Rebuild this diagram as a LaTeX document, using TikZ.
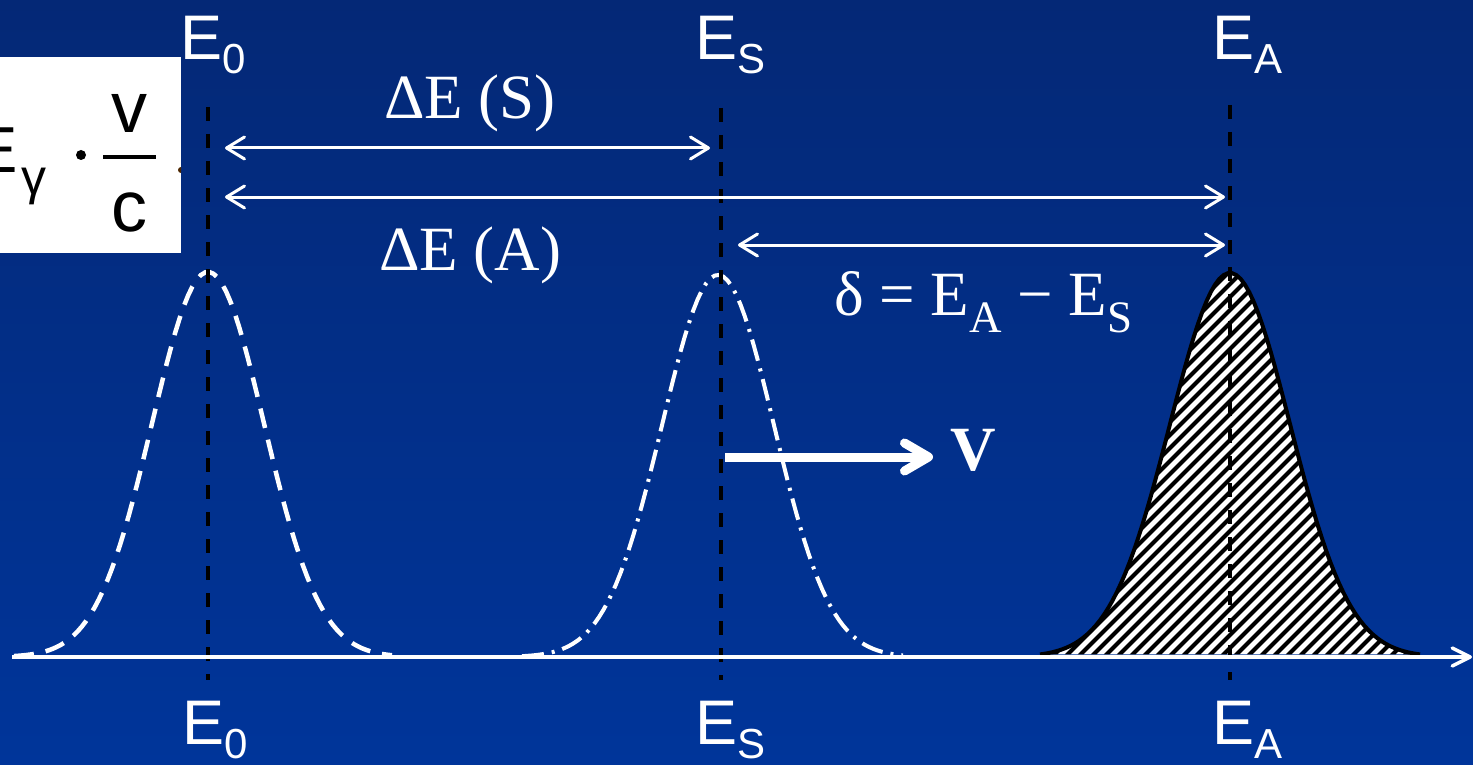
\documentclass[tikz,border=0pt]{standalone}
\usepackage{fontspec}
\setmainfont{Liberation Serif}
\newfontfamily\labfont{Liberation Sans}
\usetikzlibrary{arrows.meta, positioning}

\definecolor{bgtop}{RGB}{4,40,118}
\definecolor{bgbot}{RGB}{0,53,154}

% energy labels and subscripts
\newcommand{\elab}[1]{{\labfont\fontsize{63}{63}\selectfont E\raisebox{-14pt}{\fontsize{42}{42}\selectfont #1}}}
\newcommand{\ssub}[1]{\raisebox{-17pt}{\fontsize{45}{45}\selectfont #1}}

\begin{document}
\begin{tikzpicture}[x=1pt, y=-1pt,
    every node/.style={inner sep=0pt, text=white},
    serif/.style={anchor=base west, font=\fontsize{63}{63}\selectfont},
    boxtext/.style={text=black, font=\labfont\fontsize{#1}{#1}\selectfont},
    marker/.style={black, line width=3.5pt, dash pattern=on 14pt off 13pt},
    dimarrow/.style={white, line width=3pt, {Straight Barb[length=18pt,width=22pt,round]}-{Straight Barb[length=18pt,width=22pt,round]}}]
    \useasboundingbox (0,0) rectangle (1473,765);

    % Background
    \shade[top color=bgtop, bottom color=bgbot] (0,0) rectangle (1473,765);

    % Formula box (cut at the left)
    \fill[white] (0,57) rectangle (181,253);
    \begin{scope}
        \clip (0,57) rectangle (181,253);
        \node[anchor=base east, boxtext=65] (eg) at (18,172) {E};
        \node[anchor=base west, boxtext=50] (gam) at (21,194) {γ};
        \fill[black] (81,155) circle (5);
        \draw[black, line width=3.5pt] (103,157) -- (156,157);
        \node[anchor=base, boxtext=72] (vv) at (129.5,133) {v};
        \node[anchor=base, boxtext=72] (cc) at (129.5,231) {c};
        \fill[black!70!orange] (181,170) circle (3);
    \end{scope}

    % Hatched line (absorption)
    \begin{scope}
        \clip plot[domain=-190:190, samples=90] ({1230+\x}, {657-384*exp(-(\x/60)*(\x/60)/2)}) -- cycle;
        \fill[white] (1030,260) rectangle (1420,660);
        \foreach \s in {620,633,...,1430}
            \draw[black, line width=4pt] (\s,660) -- ++(420,-420);
    \end{scope}
    \draw[black, line width=4pt] plot[domain=-190:190, samples=90] ({1230+\x}, {657-384*exp(-(\x/60)*(\x/60)/2)});

    % Emission lines at rest and moving source
    \draw[white, line width=4.5pt, dash pattern=on 20pt off 12pt] plot[domain=-194:184, samples=90] ({208+\x}, {657-385*exp(-(\x/56)*(\x/56)/2)});
    \draw[white, line width=4pt, dash pattern=on 22pt off 8pt on 3pt off 8pt] plot[domain=-196:185, samples=90] ({718+\x}, {657-382*exp(-(\x/56)*(\x/56)/2)});

    % Line positions
    \draw[marker] (208,107) -- (208,680);
    \draw[marker] (721,108) -- (721,680);
    \draw[marker] (1230,105) -- (1230,680);

    % Energy axis
    \draw[white, line width=3.5pt, -{Straight Barb[length=18pt,width=18pt,round]}] (12,657) -- (1472,657);

    % Labels top and bottom
    \node[anchor=base west] (e0up) at (180,60) {\elab{0}};
    \node[anchor=base west] (esup) at (695,60) {\elab{S}};
    \node[anchor=base west] (eaup) at (1212,60) {\elab{A}};
    \node[anchor=base west] (e0dn) at (182,744) {\elab{0}};
    \node[anchor=base west] (esdn) at (695,744) {\elab{S}};
    \node[anchor=base west] (eadn) at (1212,744) {\elab{A}};

    % Energy differences
    \coordinate (s0) at (225,148);
    \coordinate (s1) at (710,148);
    \coordinate (a0) at (225,197);
    \coordinate (a1) at (1225,197);
    \coordinate (d0) at (738,245);
    \coordinate (d1) at (1225,245);
    \draw[dimarrow] (s0) -- (s1);
    \draw[dimarrow] (a0) -- (a1);
    \draw[dimarrow] (d0) -- (d1);
    \node[serif] (des) at (384,119) {ΔE (S)};
    \node[serif] (dea) at (379,270) {ΔE (A)};
    \node[serif] (delta) at (834,315) {δ = E\ssub{A} − E\ssub{S}};

    % Source velocity
    \node[serif, font=\bfseries\fontsize{63}{63}\selectfont] (vel) at (950,470) {V};
    \coordinate (v0) at (725,457);
    \draw[white, line width=9pt, -{Straight Barb[length=24pt,width=28pt,round]}] (v0) -- (933,457);

\end{tikzpicture}
\end{document}
